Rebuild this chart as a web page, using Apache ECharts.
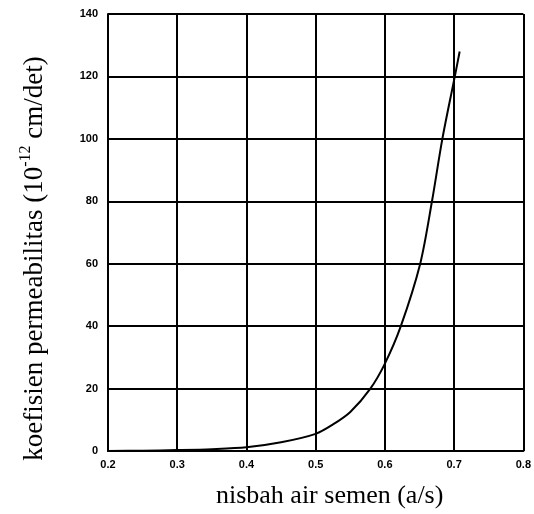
<!DOCTYPE html>
<html>
<head>
<meta charset="utf-8">
<script src="https://cdn.jsdelivr.net/npm/echarts@6/dist/echarts.min.js"></script>
<style>html,body{margin:0;padding:0;background:#fff}#c{width:534px;height:514px}</style>
</head>
<body>
<div id="c"></div>
<script>
// nisbah air semen (a/s)
var ratioWC = [0.2, 0.25, 0.3, 0.35, 0.4, 0.45, 0.5, 0.525, 0.55, 0.579, 0.6, 0.623, 0.651, 0.668, 0.683, 0.701, 0.708];
// koefisien permeabilitas (10^-12 cm/det)
var permeability = [0, 0.1, 0.3, 0.6, 1.2, 2.8, 5.5, 8.5, 12.5, 20, 28, 40, 60, 80, 100, 120, 128];
var xTicks = [0.2, 0.3, 0.4, 0.5, 0.6, 0.7, 0.8];
var yTicks = [0, 20, 40, 60, 80, 100, 120, 140];

var pts = ratioWC.map(function (x, i) { return [x, permeability[i]]; });
var chart = echarts.init(document.getElementById('c'));
chart.setOption({
  animation: false,
  backgroundColor: '#fff',
  grid: { left: 108, right: 6, top: 14, bottom: 55 },
  xAxis: {
    type: 'value', min: xTicks[0], max: xTicks[xTicks.length - 1], interval: 0.1,
    name: 'nisbah air semen (a/s)', nameLocation: 'middle', nameGap: 32,
    nameTextStyle: { fontFamily: 'Liberation Serif', fontSize: 26, color: '#000', padding: [0, 0, 0, 28] },
    axisLine: { show: true, lineStyle: { color: '#000', width: 2 } },
    axisTick: { show: false },
    axisLabel: { color: '#000', fontFamily: 'Liberation Sans', fontWeight: 'bold', fontSize: 11, margin: 8,
      formatter: function (v) { return v.toFixed(1); } },
    splitLine: { show: true, lineStyle: { color: '#000', width: 2 } }
  },
  yAxis: {
    type: 'value', min: yTicks[0], max: yTicks[yTicks.length - 1], interval: 20,
    name: '{a|koefisien permeabilitas (10}{s|-12}{a| cm/det)}', nameLocation: 'middle', nameGap: 60, nameRotate: 90,
    nameTextStyle: { padding: [0, 52, 0, 0],
      rich: {
        a: { fontFamily: 'Liberation Serif', fontSize: 27, color: '#000', lineHeight: 30, verticalAlign: 'bottom' },
        s: { fontFamily: 'Liberation Serif', fontSize: 16, color: '#000', lineHeight: 30, verticalAlign: 'top', padding: [0, 0, 10, 0] }
      } },
    axisLine: { show: true, lineStyle: { color: '#000', width: 2 } },
    axisTick: { show: false },
    axisLabel: { color: '#000', fontFamily: 'Liberation Sans', fontWeight: 'bold', fontSize: 11, margin: 10 },
    splitLine: { show: true, lineStyle: { color: '#000', width: 2 } }
  },
  series: [{
    type: 'line', data: pts, smooth: 0.3, symbol: 'none',
    lineStyle: { color: '#000', width: 2 }
  }]
});
</script>
</body>
</html>
